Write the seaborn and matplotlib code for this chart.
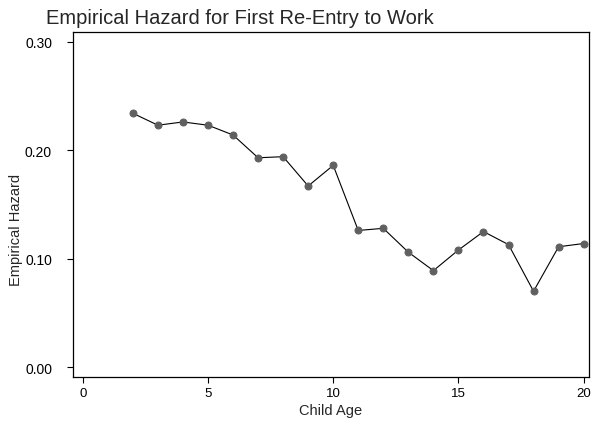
import matplotlib
matplotlib.use("Agg")
import matplotlib.pyplot as plt
import seaborn as sns
import pandas as pd

# Empirical hazard values
child_age = [2, 3, 4, 5, 6, 7, 8, 9, 10, 11, 12, 13, 14, 15, 16, 17, 18, 19, 20]
hazard = [0.234, 0.223, 0.226, 0.223, 0.214, 0.193, 0.194, 0.167, 0.186,
          0.126, 0.128, 0.106, 0.089, 0.108, 0.125, 0.113, 0.070, 0.111, 0.114]

x_ticks = [0, 5, 10, 15, 20]
y_ticks = [0.00, 0.10, 0.20, 0.30]

sns.set_theme(style="ticks")
plt.rcParams["font.family"] = ["Liberation Sans", "DejaVu Sans"]

df = pd.DataFrame({"Child Age": child_age, "Empirical Hazard": hazard})

fig = plt.figure(figsize=(5.91, 4.27), dpi=100)
ax = fig.add_axes([0.124, 0.114, 0.872, 0.809])

sns.lineplot(
    data=df, x="Child Age", y="Empirical Hazard", ax=ax,
    color="black", linewidth=0.8, marker="o", markersize=5,
    markerfacecolor="#606060", markeredgecolor="#606060",
)

ax.set_xlim(-0.38, 20.2)
ax.set_ylim(-0.0093, 0.309)
ax.set_xticks(x_ticks)
ax.set_yticks(y_ticks)
ax.set_yticklabels([f"{v:.2f}" for v in y_ticks])

for side in ["top", "right", "bottom", "left"]:
    ax.spines[side].set_visible(True)
    ax.spines[side].set_linewidth(0.9)
    ax.spines[side].set_color("black")

ax.tick_params(axis="both", direction="out", length=4.3, width=0.8,
               colors="black")
ax.tick_params(axis="y", pad=11, labelsize=10)
ax.tick_params(axis="x", pad=2.5, labelsize=9.5)

ax.set_xlabel("Child Age", fontsize=10.5, labelpad=3)
ax.set_ylabel("Empirical Hazard", fontsize=10.5)
ax.yaxis.set_label_coords(-0.098, 0.43)

fig.text(46 / 591, 1 - 24 / 427, "Empirical Hazard for First Re-Entry to Work",
         fontsize=14.5, ha="left", va="baseline")

fig.savefig("out.png", dpi=100)
plt.close(fig)
